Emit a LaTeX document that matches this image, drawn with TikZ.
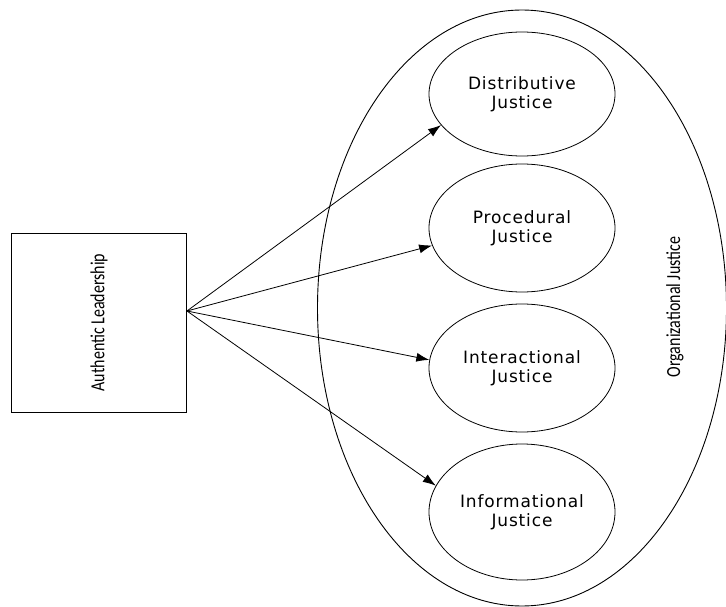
\documentclass[tikz,border=0pt]{standalone}
\usepackage{fontspec}
\usepackage{tikz}
\usetikzlibrary{arrows.meta,calc,shapes.geometric}
\newfontfamily\carlito{Carlito}
\newfontfamily\dejavu[LetterSpace=5]{DejaVu Sans}

\tikzset{
  leadbox/.style={draw,line width=0.9pt,minimum width=175pt,minimum height=179pt,inner sep=0pt},
  outerell/.style={ellipse,draw,line width=0.9pt,minimum width=409pt,minimum height=596pt,inner sep=0pt},
  dim/.style={ellipse,draw,line width=0.8pt,minimum width=186pt,inner sep=0pt,align=center,
    font=\dejavu\fontsize{17}{19}\selectfont},
  link/.style={->,line width=0.8pt}
}
\newcommand{\narrow}[1]{\scalebox{0.8}[1]{\carlito\fontsize{20}{23}\selectfont #1}}

\begin{document}
\begin{tikzpicture}[x=1pt,y=-1pt,>={Latex[length=13pt,width=9pt]}]
  \useasboundingbox (0,0) rectangle (726,607);
  \node[leadbox] (lead) at (99,322.5) {\rotatebox{90}{\narrow{Authentic Leadership}}};
  \node[outerell] (org) at (522,308) {};
  \node[rotate=90] (orglabel) at (675,307) {\narrow{Organizational Justice}};
  \node[dim,minimum height=124pt] (dist) at (522,94) {Distributive\\Justice};
  \node[dim,minimum height=128pt] (proc) at (522,228) {Procedural\\Justice};
  \node[dim,minimum height=128pt] (inter) at (522,368) {Interactional\\Justice};
  \node[dim,minimum height=136pt] (info) at (522,512) {Informational\\Justice};
  \coordinate (src) at ($(lead.north east)!0.436!(lead.south east)$);
  \draw[link] (src) -- (dist.201);
  \draw[link] (src) -- (proc.191);
  \draw[link] (src) -- (inter.175);
  \draw[link] (src) -- (info.163);
\end{tikzpicture}
\end{document}
